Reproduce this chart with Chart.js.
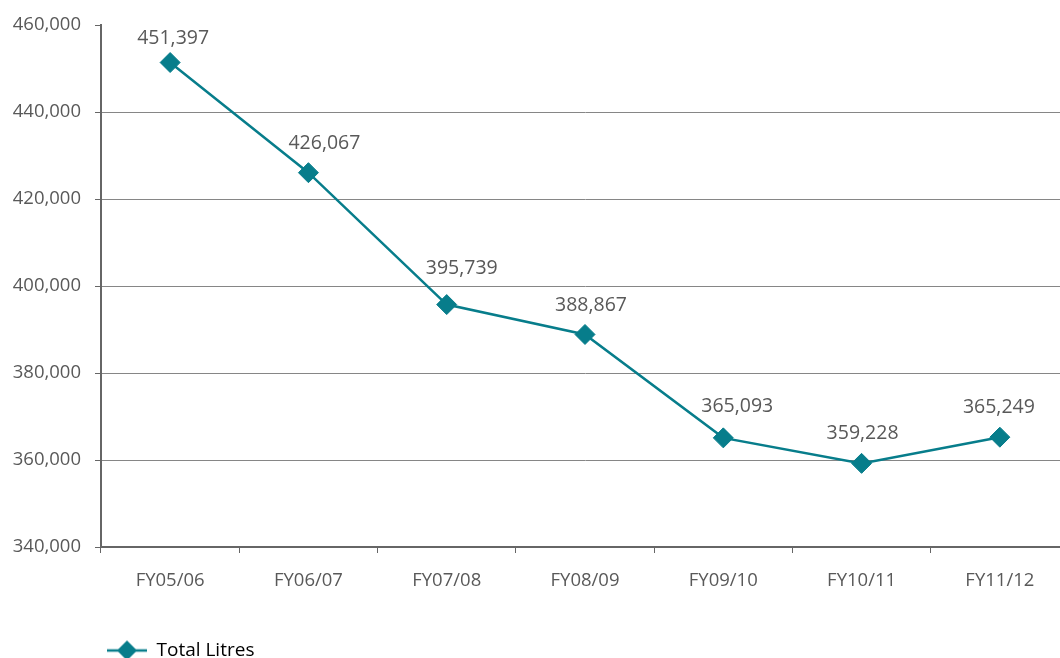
<!DOCTYPE html>
<html lang="en">
<head>
    <meta charset="UTF-8">
    <title>Total Litres</title>
    <script src="https://cdn.jsdelivr.net/npm/chart.js"></script>
    <style>
        body {
            margin: 0;
            background: #ffffff;
            overflow: hidden;
        }
        .chart-container {
            width: 1080px;
            height: 670px;
        }
    </style>
</head>
<body>
    <div class="chart-container">
        <canvas id="lineChart" width="1080" height="670"></canvas>
    </div>

    <script>
        const categories = ['FY05/06', 'FY06/07', 'FY07/08', 'FY08/09', 'FY09/10', 'FY10/11', 'FY11/12'];
        const totalLitres = [451397, 426067, 395739, 388867, 365093, 359228, 365249];
        const seriesName = 'Total Litres';
        const yMin = 340000;
        const yMax = 460000;
        const yStep = 20000;

        const teal = '#077D8B';
        const textGrey = '#595959';
        const fontFamily = '"Open Sans", "Noto Sans", sans-serif';

        // legend marker: short line with a diamond on it
        const legendIcon = document.createElement('canvas');
        legendIcon.width = 40;
        legendIcon.height = 22;
        (function () {
            const c = legendIcon.getContext('2d');
            c.strokeStyle = teal;
            c.lineWidth = 2.5;
            c.beginPath();
            c.moveTo(0, 11);
            c.lineTo(40, 11);
            c.stroke();
            c.fillStyle = teal;
            c.beginPath();
            c.moveTo(20, 1);
            c.lineTo(30, 11);
            c.lineTo(20, 21);
            c.lineTo(10, 11);
            c.closePath();
            c.fill();
        })();

        // value labels above each point, with the small manual nudges the original has
        const valueLabels = {
            id: 'valueLabels',
            defaults: {
                dx: [3, 16, 15, 6, 14, 1, -1],
                dy: [-24, -29, -36, -29, -31, -30, -30]
            },
            afterDatasetsDraw(chart, args, opts) {
                const ctx = chart.ctx;
                const meta = chart.getDatasetMeta(0);
                ctx.save();
                ctx.font = '19.5px ' + fontFamily;
                ctx.fillStyle = textGrey;
                ctx.textAlign = 'center';
                ctx.textBaseline = 'middle';
                meta.data.forEach((pt, i) => {
                    const v = chart.data.datasets[0].data[i];
                    ctx.fillText(v.toLocaleString('en-US'), pt.x + (opts.dx[i] || 0), pt.y + (opts.dy[i] || -28));
                });
                ctx.restore();
            }
        };

        const ctx = document.getElementById('lineChart').getContext('2d');
        const lineChart = new Chart(ctx, {
            type: 'line',
            data: {
                labels: categories,
                datasets: [{
                    label: seriesName,
                    data: totalLitres,
                    borderColor: teal,
                    borderWidth: 2.5,
                    backgroundColor: teal,
                    pointStyle: 'rectRot',
                    pointRadius: 10,
                    pointBorderWidth: 1,
                    pointBackgroundColor: teal,
                    pointBorderColor: teal,
                    tension: 0,
                    fill: false
                }]
            },
            options: {
                responsive: false,
                animation: false,
                layout: {
                    padding: { top: 25, right: 2, left: 0, bottom: 0 }
                },
                scales: {
                    x: {
                        offset: true,
                        grid: {
                            offset: true,
                            drawOnChartArea: false,
                            drawTicks: true,
                            tickLength: 6,
                            tickColor: '#666666'
                        },
                        border: { color: '#666666', width: 2 },
                        ticks: {
                            color: textGrey,
                            padding: 17,
                            maxRotation: 0,
                            font: { family: fontFamily, size: 18.5 }
                        },
                        afterFit(scale) { scale.height = 88; }
                    },
                    y: {
                        min: yMin,
                        max: yMax,
                        ticks: {
                            stepSize: yStep,
                            color: textGrey,
                            padding: 14,
                            font: { family: fontFamily, size: 18.5 },
                            callback: (v) => v.toLocaleString('en-US')
                        },
                        grid: {
                            color: (c) => (c.tick && c.tick.value === yMax) ? 'rgba(0,0,0,0)' : '#868686',
                            lineWidth: 1,
                            tickLength: 6,
                            tickColor: '#666666'
                        },
                        border: { color: '#666666', width: 2 },
                        afterFit(scale) { scale.width = 101; }
                    }
                },
                plugins: {
                    legend: {
                        position: 'bottom',
                        align: 'start',
                        fullSize: false,
                        labels: {
                            usePointStyle: true,
                            pointStyleWidth: 40,
                            padding: 6,
                            color: '#000000',
                            font: { family: fontFamily, size: 19 },
                            generateLabels: (chart) => [{
                                text: seriesName,
                                pointStyle: legendIcon,
                                fillStyle: teal,
                                strokeStyle: teal,
                                lineWidth: 0,
                                datasetIndex: 0,
                                hidden: false
                            }]
                        }
                    },
                    tooltip: { enabled: false }
                }
            },
            plugins: [valueLabels]
        });
    </script>
</body>
</html>
